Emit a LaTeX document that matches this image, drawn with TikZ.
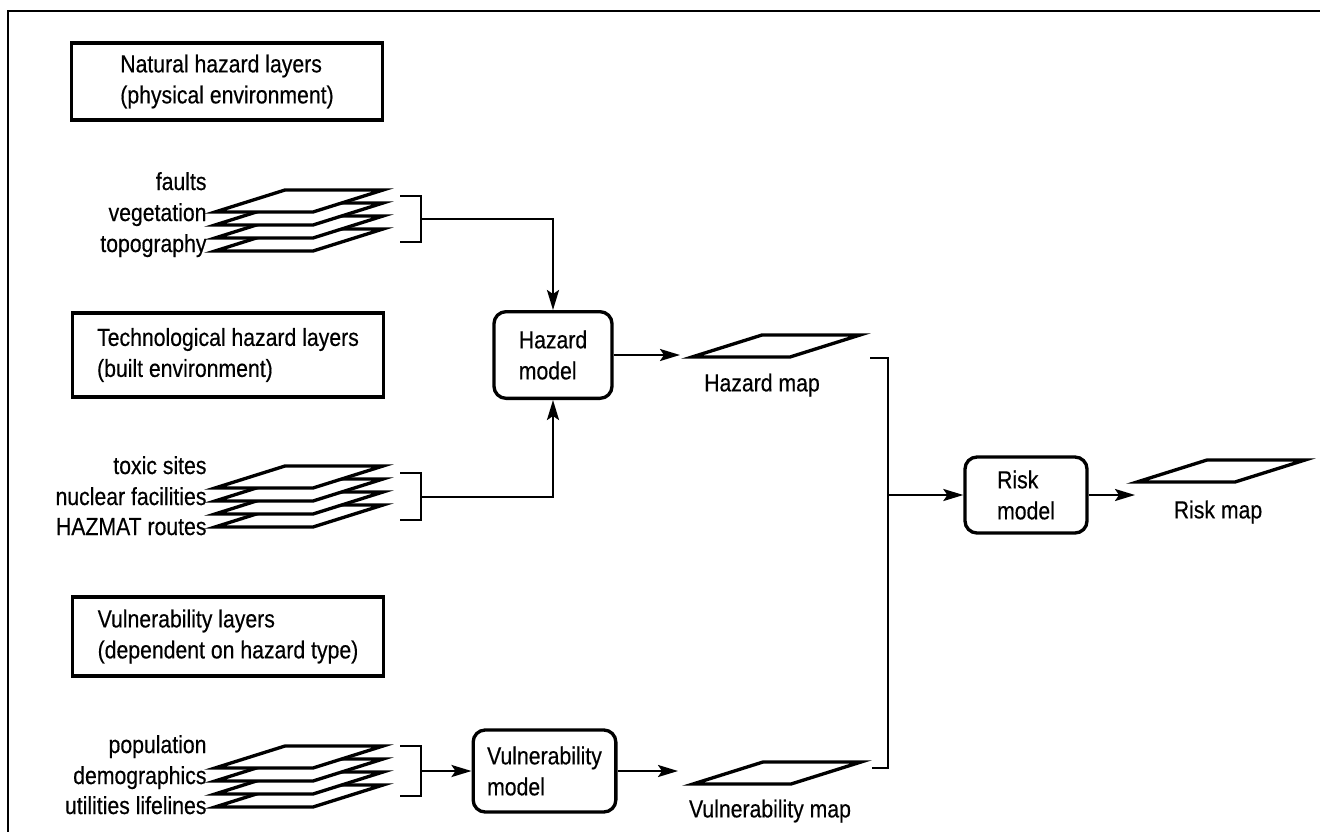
\documentclass[tikz,border=0pt]{standalone}
\usepackage{fontspec}
\setmainfont{Liberation Sans}[FakeStretch=0.86,FakeBold=0.4]
\usetikzlibrary{arrows.meta}

\tikzset{every picture/.style={line width=0.75pt}}
\tikzset{
  layerbox/.style={draw, line width=2.5pt, align=left, inner sep=0pt, minimum width=233pt},
  modelbox/.style={draw, line width=2.5pt, rounded corners=9pt, align=left, inner sep=0pt},
  lbl/.style={inner sep=0.75pt},
  conn/.style={line width=1.8pt},
  arr/.style={conn, -{Stealth[length=15pt,width=9pt,inset=3pt]}},
  sheet/.style={draw, fill=white, line width=2.5pt, line join=miter}
}
\newcommand{\mapsheet}[2]{\draw[sheet] (#1,#2) -- ++(98,0) -- ++(70,-22) -- ++(-98,0) -- cycle;}

\begin{document}
\begin{tikzpicture}[x=0.75pt,y=0.75pt,yscale=-1,xscale=1,font=\fontsize{18.5}{23.25}\selectfont]
\useasboundingbox (0,0) rectangle (1320,832);

%Frame
\draw[line width=1.9pt] (1320,11) -- (8,11) -- (8,832);

% Text Node
\node[layerbox, minimum height=57.75pt] (natlayers) at (227,81.5) {Natural hazard layers\\(physical environment)};
% Text Node
\node[layerbox, minimum height=63pt] (techlayers) at (228,355) {Technological hazard layers\\(built environment)};
% Text Node
\node[layerbox, minimum height=59.25pt] (vullayers) at (228,636.5) {Vulnerability layers\\(dependent on hazard type)};

%Layer stacks
\foreach \y in {251,238,225,212} {\mapsheet{215}{\y}}
\foreach \y in {527,514,501,488} {\mapsheet{215}{\y}}
\foreach \y in {807,794,781,768} {\mapsheet{215}{\y}}

% Text Node
\node[lbl, anchor=base east] (faults) at (208,190) {faults};
\node[lbl, anchor=base east] (vegetation) at (208,221) {vegetation};
\node[lbl, anchor=base east] (topography) at (208,252) {topography};
% Text Node
\node[lbl, anchor=base east] (toxic) at (208,474) {toxic sites};
\node[lbl, anchor=base east] (nuclear) at (208,505) {nuclear facilities};
\node[lbl, anchor=base east] (hazmat) at (208,535) {HAZMAT routes};
% Text Node
\node[lbl, anchor=base east] (population) at (208,753) {population};
\node[lbl, anchor=base east] (demographics) at (208,784) {demographics};
\node[lbl, anchor=base east] (utilities) at (208,814) {utilities lifelines};

%Models
\node[modelbox, minimum width=88.5pt, minimum height=65pt] (hazmodel) at (553,355) {Hazard\\model};
\node[modelbox, minimum width=107pt, minimum height=61.5pt] (vulmodel) at (544.5,771) {Vulnerability\\model};
\node[modelbox, minimum width=91.5pt, minimum height=57pt] (riskmodel) at (1026,495) {Risk\\model};

%Brackets
\coordinate (natbr) at (421,219);
\coordinate (techbr) at (421,497);
\coordinate (vulbr) at (421,771);
\draw[conn] (400,196) -- (421,196) -- (421,242) -- (400,242);
\draw[conn] (400,473) -- (421,473) -- (421,520) -- (400,520);
\draw[conn] (400,746) -- (421,746) -- (421,796) -- (400,796);
\draw[arr] (natbr) -| (hazmodel.north);
\draw[arr] (techbr) -| (hazmodel.south);
\draw[arr] (vulbr) -- (vulmodel.west);

%Maps
\mapsheet{692}{357}
\mapsheet{693}{784}
\mapsheet{1137}{482}
% Text Node
\node[lbl] (hazmap) at (762,385) {Hazard map};
\node[lbl] (vulmap) at (770,811) {Vulnerability map};
\node[lbl] (riskmap) at (1218,512) {Risk map};

\coordinate (hazin) at (680,355);
\coordinate (vulin) at (678,771);
\coordinate (riskin) at (1135,495);
\coordinate (mapbr) at (888,495);
\draw[arr] (hazmodel.east) -- (hazin);
\draw[arr] (vulmodel.east) -- (vulin);
\draw[conn] (870,358) -- (888,358) -- (888,768) -- (872,768);
\draw[arr] (mapbr) -- (riskmodel.west);
\draw[arr] (riskmodel.east) -- (riskin);

\end{tikzpicture}
\end{document}
